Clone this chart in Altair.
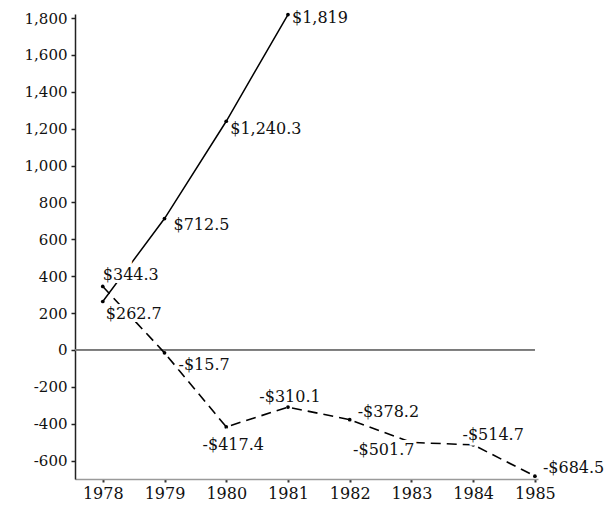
import altair as alt
import pandas as pd

# ---- data ----
years_solid = [1978, 1979, 1980, 1981]
values_solid = [262.7, 712.5, 1240.3, 1819.0]
labels_solid = ["$262.7", "$712.5", "$1,240.3", "$1,819"]

years_dashed = [1978, 1979, 1980, 1981, 1982, 1983, 1984, 1985]
values_dashed = [344.3, -15.7, -417.4, -310.1, -378.2, -501.7, -514.7, -684.5]
labels_dashed = ["$344.3", "-$15.7", "-$417.4", "-$310.1", "-$378.2",
                 "-$501.7", "-$514.7", "-$684.5"]

x_ticks = [1978, 1979, 1980, 1981, 1982, 1983, 1984, 1985]
y_ticks = [-600, -400, -200, 0, 200, 400, 600, 800, 1000, 1200, 1400, 1600, 1800]
x_range = [1977.55, 1985.05]
y_range = [-700, 1822]

# ---- label placement (style) ----
placement = {
    "$262.7": ("left", 3, 13),
    "$712.5": ("left", 9, 6),
    "$1,240.3": ("left", 4, 8),
    "$1,819": ("left", 4, 3),
    "$344.3": ("left", 0, -11),
    "-$15.7": ("left", 14, 12),
    "-$417.4": ("center", 7, 18),
    "-$310.1": ("center", 2, -10),
    "-$378.2": ("left", 8, -8),
    "-$501.7": ("right", 3, 8),
    "-$514.7": ("center", 20, -10),
    "-$684.5": ("left", 8, -8),
}

FONT = "DejaVu Serif"

solid = pd.DataFrame({"year": years_solid, "value": values_solid, "label": labels_solid})
dashed = pd.DataFrame({"year": years_dashed, "value": values_dashed, "label": labels_dashed})
all_pts = pd.concat([solid, dashed], ignore_index=True)

xscale = alt.Scale(domain=x_range, nice=False, zero=False)
yscale = alt.Scale(domain=y_range, nice=False, zero=False)

x_enc = alt.X("year:Q", scale=xscale,
              axis=alt.Axis(values=x_ticks, tickCount=len(x_ticks) + 2, format="d",
                            title=None, grid=False,
                            domainColor="#9a9a9a", domainWidth=1.5,
                            tickColor="#333", tickSize=3, tickWidth=2,
                            labelFont=FONT, labelFontSize=16, labelColor="#111",
                            labelPadding=3, labelFlush=False, labelOverlap=False))
y_enc = alt.Y("value:Q", scale=yscale,
              axis=alt.Axis(values=y_ticks, tickCount=len(y_ticks) + 2, title=None, grid=False,
                            labelExpr="datum.value < 0 ? '-' + format(-datum.value, ',') : format(datum.value, ',')",
                            domainColor="#222", domainWidth=1.5,
                            tickColor="#222", tickSize=4, tickWidth=1.5,
                            labelFont=FONT, labelFontSize=15, labelColor="#111",
                            labelPadding=4, labelOverlap=False, labelFlush=False))

base_axes = alt.Chart(solid).mark_line(color="black", strokeWidth=1.5).encode(x=x_enc, y=y_enc)

zero_rule = alt.Chart(solid).mark_rule(color="#7a7a7a", strokeWidth=1.2).encode(
    x=alt.datum(x_range[0]), x2=alt.datum(x_ticks[-1]), y=alt.datum(0))

dashed_line = alt.Chart(dashed).mark_line(
    color="black", strokeWidth=1.6, strokeDash=[10, 6]).encode(
    x=alt.X("year:Q"), y=alt.Y("value:Q"))

points = alt.Chart(all_pts).mark_circle(color="black", size=14, opacity=1).encode(
    x=alt.X("year:Q"), y=alt.Y("value:Q"))

layers = [base_axes, zero_rule, dashed_line, points]

halos = []
texts = []
for lab in labels_solid + labels_dashed:
    align, dx, dy = placement[lab]
    src = alt.Chart(all_pts).transform_filter(alt.datum.label == lab)
    enc = dict(x=alt.X("year:Q"), y=alt.Y("value:Q"), text=alt.Text("label:N"))
    halos.append(src.mark_text(align=align, baseline="middle", dx=dx, dy=dy,
                               font=FONT, fontSize=16, color="white",
                               stroke="white", strokeWidth=6).encode(**enc))
    texts.append(src.mark_text(align=align, baseline="middle", dx=dx, dy=dy,
                               font=FONT, fontSize=16, color="#111").encode(**enc))

chart = alt.layer(*(layers + halos + texts)).properties(
    width=463, height=465,
    background="white",
    autosize=alt.AutoSizeParams(type="none"),
    padding={"left": 67, "top": 6, "right": 66, "bottom": 25},
).configure_view(stroke=None, strokeWidth=0)

chart.save("out.html", embed_options={"renderer": "svg", "actions": False})
